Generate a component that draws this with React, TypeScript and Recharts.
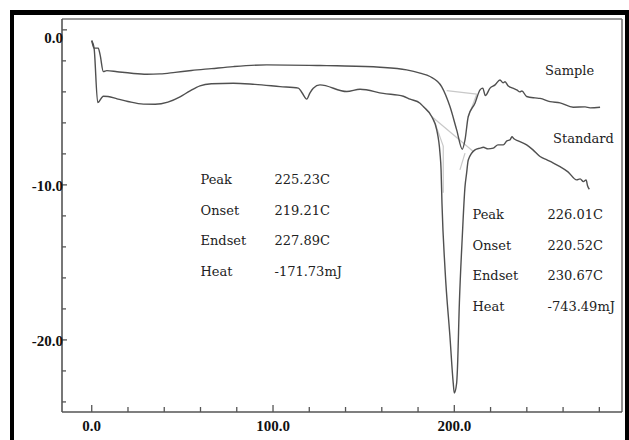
import { LineChart, Line, XAxis, YAxis, ReferenceLine } from "recharts";

// axes
const xDomain = [-16.4, 292.5];
const yDomain = [-24.65, 0.7];
const xTicks = [0, 20, 40, 60, 80, 100, 120, 140, 160, 180, 200, 220, 240, 260, 280];
const yTicks = [0, -2, -4, -6, -8, -10, -12, -14, -16, -18, -20, -22, -24];

// upper trace
const sampleTemp = [
  0, 1.3, 3.6, 4.6, 6.4, 8.3, 14, 22, 30.3, 37.7, 46, 55, 66, 78.1, 96.5, 125.9, 135.1, 159, 173.7,
  181.1, 186.6, 193, 197.6, 201.3, 204.4, 205.9, 207.7, 211.4, 214.2, 215.7, 217.1, 219.7, 222.5,
  225.2, 226.9, 228, 229.6, 231.8, 234.4, 236.2, 237.3, 239.9, 244.5, 247.3, 252.8, 258.3, 265.6,
  272.1, 274.9, 280.4,
];
const sampleHeat = [
  -0.69, -1.18, -1.18, -1.6, -2.69, -2.63, -2.7, -2.8, -2.86, -2.84, -2.74, -2.62, -2.5, -2.37,
  -2.26, -2.3, -2.32, -2.41, -2.58, -2.79, -3.01, -3.66, -4.95, -6.45, -7.7, -7.1, -5.59, -4.73,
  -3.87, -3.76, -4.24, -3.76, -3.55, -3.23, -3.42, -3.35, -3.61, -3.74, -3.87, -4.0, -3.94, -4.3,
  -4.39, -4.42, -4.63, -4.71, -4.99, -4.97, -5.03, -4.99,
];

// lower trace
const standardTemp = [
  0, 1.3, 3.3, 6.4, 9, 14, 20, 28.5, 35, 42, 48.7, 54, 59.7, 66, 78.1, 90, 103.9, 114, 116, 118.6,
  120.4, 122.2, 125.9, 140.7, 148, 160.8, 171.9, 175.6, 181.1, 182.9, 187.5, 190.3, 192.1, 192.7,
  193.2, 194.9, 197.6, 199.4, 200, 201.3, 201.7, 202.8, 204.4, 205.9, 206.8, 207.7, 211.4, 214.2,
  216, 218.6, 221.5, 224.1, 227, 229, 230.7, 231.8, 232.9, 235.2, 239.9, 243.4, 247.3, 251.1, 254.4,
  258.3, 262.7, 267.5, 269.4, 271.2, 272.7, 273.5, 274.5,
];
const standardHeat = [
  -0.69, -1.18, -4.69, -4.28, -4.3, -4.45, -4.62, -4.79, -4.8, -4.66, -4.32, -3.95, -3.61, -3.48,
  -3.44, -3.52, -3.66, -3.76, -4.06, -4.47, -4.06, -3.76, -3.55, -3.98, -3.83, -4.1, -4.28, -4.47,
  -4.73, -4.95, -5.59, -6.45, -7.95, -9.03, -11.2, -15.48, -19.8, -22.77, -23.42, -22.77, -21.94,
  -17.6, -13.34, -10.11, -9.23, -8.39, -7.74, -7.63, -7.57, -7.68, -7.63, -7.42, -7.42, -7.16, -7.1,
  -6.9, -7.03, -7.16, -7.42, -7.74, -8.17, -8.39, -8.58, -8.82, -9.16, -9.68, -9.61, -9.79, -9.68,
  -10.06, -10.28,
];

// baseline / tangent guides [x1, y1, x2, y2]
const guideLines = [
  [195.8, -3.92, 212.4, -4.15],
  [212.4, -4.15, 207.7, -5.6],
  [187.5, -5.59, 210.5, -7.85],
  [188.4, -5.7, 193.9, -7.5],
  [193.9, -7.5, 193.9, -10.5],
  [203.1, -9.03, 205.9, -7.95],
];

const sampleStats = [
  ["Peak", "225.23C"],
  ["Onset", "219.21C"],
  ["Endset", "227.89C"],
  ["Heat", "-171.73mJ"],
];
const standardStats = [
  ["Peak", "226.01C"],
  ["Onset", "220.52C"],
  ["Endset", "230.67C"],
  ["Heat", "-743.49mJ"],
];

const sampleData = sampleTemp.map((t, i) => ({ t, v: sampleHeat[i] }));
const standardData = standardTemp.map((t, i) => ({ t, v: standardHeat[i] }));

const axisColor = "#555";
const traceColor = "#505050";
const labelFont = { fontFamily: "'Liberation Serif', serif", fontWeight: 700, fontSize: 15, fill: "#111" };
const noteFont = { fontFamily: "'DejaVu Serif', serif", fontSize: 13, fill: "#222" };

function XTick({ x, y, payload }: any) {
  const major = payload.value % 100 === 0;
  return (
    <g>
      <line x1={x} x2={x} y1={y} y2={y - (major ? 7 : 5)} stroke={axisColor} strokeWidth={1.3} />
      {major && (
        <text x={x} y={y + 19} textAnchor="middle" style={labelFont}>
          {payload.value.toFixed(1)}
        </text>
      )}
    </g>
  );
}

function YTick({ x, y, payload }: any) {
  const major = payload.value % 10 === 0;
  return (
    <g>
      <line x1={x} x2={x + (major ? 5 : 4)} y1={y} y2={y} stroke={axisColor} strokeWidth={1.3} />
      {major && (
        <text x={x + 1} y={y + (payload.value === 0 ? 13 : 6.5)} textAnchor="end" style={labelFont}>
          {payload.value.toFixed(1)}
        </text>
      )}
    </g>
  );
}

function StatBlock({ rows, x, valueX, y }: { rows: string[][]; x: number; valueX: number; y: number }) {
  return (
    <g>
      {rows.map((r, i) => (
        <g key={r[0]}>
          <text x={x} y={y + i * 30.5} style={noteFont}>{r[0]}</text>
          <text x={valueX} y={y + i * 30.5} style={noteFont}>{r[1]}</text>
        </g>
      ))}
    </g>
  );
}

export default function App() {
  return (
    <div style={{ position: "absolute", left: 0, top: 0, width: 629, height: 440, background: "#fff", overflow: "hidden" }}>
      <LineChart width={629} height={440} margin={{ top: 19, right: 7, bottom: 0, left: 2 }}>
        <XAxis
          dataKey="t"
          type="number"
          domain={xDomain}
          ticks={xTicks}
          allowDataOverflow
          height={28}
          tickSize={0}
          tickMargin={0}
          tickLine={false}
          tick={<XTick />}
          axisLine={{ stroke: axisColor, strokeWidth: 1.6 }}
        />
        <YAxis
          dataKey="v"
          type="number"
          domain={yDomain}
          ticks={yTicks}
          allowDataOverflow
          width={60}
          tickSize={0}
          tickMargin={0}
          tickLine={false}
          tick={<YTick />}
          axisLine={{ stroke: axisColor, strokeWidth: 1.6 }}
        />
        <ReferenceLine y={yDomain[1]} stroke="#777" strokeWidth={1.6} ifOverflow="visible" />
        <ReferenceLine x={xDomain[1]} stroke="#777" strokeWidth={1.6} ifOverflow="visible" />
        {guideLines.map((g, i) => (
          <ReferenceLine
            key={i}
            segment={[{ x: g[0], y: g[1] }, { x: g[2], y: g[3] }]}
            stroke="#c8c8c8"
            strokeWidth={1.2}
            ifOverflow="visible"
          />
        ))}
        <Line data={sampleData} dataKey="v" type="monotone" stroke={traceColor} strokeWidth={1.4} dot={false} isAnimationActive={false} />
        <Line data={standardData} dataKey="v" type="monotone" stroke={traceColor} strokeWidth={1.4} dot={false} isAnimationActive={false} />
      </LineChart>
      <svg width={629} height={440} style={{ position: "absolute", left: 0, top: 0, pointerEvents: "none" }}>
        <text x={545} y={75} style={noteFont}>Sample</text>
        <text x={553} y={143} style={noteFont}>Standard</text>
        <StatBlock rows={sampleStats} x={200.5} valueX={274.5} y={184} />
        <StatBlock rows={standardStats} x={472.5} valueX={547.5} y={219} />
      </svg>
      <div
        style={{
          position: "absolute",
          left: 10,
          top: 10,
          width: 619,
          height: 460,
          boxSizing: "border-box",
          borderLeft: "4px solid #000",
          borderTop: "5px solid #000",
          borderRight: "4px solid #000",
        }}
      />
    </div>
  );
}
